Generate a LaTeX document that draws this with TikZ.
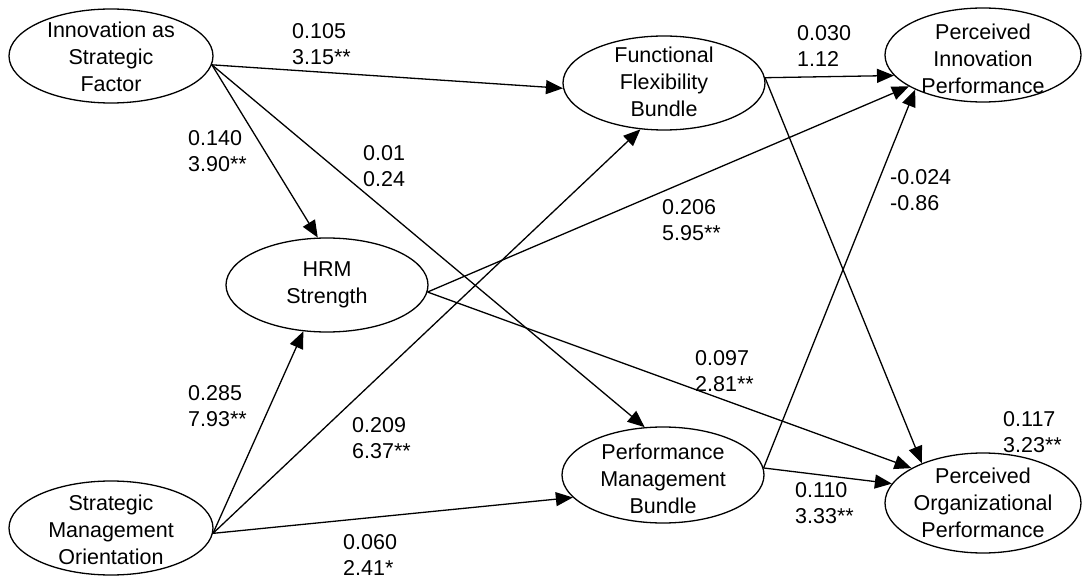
\documentclass[tikz,border=0pt]{standalone}
\usepackage{fontspec}
\setmainfont{Liberation Sans}
\usetikzlibrary{arrows.meta,shapes.geometric}
\begin{document}
\begin{tikzpicture}[x=1pt,y=-1pt,
  ell/.style={draw, ellipse, line width=1.3pt, inner sep=0pt},
  txt/.style={align=center, inner sep=0pt, font=\fontsize{21.5}{27}\selectfont},
  coef/.style={align=left, anchor=west, inner sep=0pt, font=\fontsize{21.5}{26}\selectfont},
  lnk/.style={line width=1.3pt, -{Triangle[length=17pt,width=14pt]}}
]
\fill[white] (0,0) rectangle (1082,580);
\useasboundingbox (0,0) rectangle (1082,580);

% constructs
\node[ell, minimum width=204pt, minimum height=94pt] (isf) at (111,56) {};
\node[txt] (isfT) at (111,57) {Innovation as\\Strategic\\Factor};
\node[ell, minimum width=202pt, minimum height=94pt] (hrm) at (327,285) {};
\node[txt] (hrmT) at (327,285) {HRM\\Strength};
\node[ell, minimum width=204pt, minimum height=94pt] (smo) at (111,528) {};
\node[txt] (smoT) at (111,530) {Strategic\\Management\\Orientation};
\node[ell, minimum width=202pt, minimum height=94pt] (ffb) at (664,83) {};
\node[txt] (ffbT) at (664,82) {Functional\\Flexibility\\Bundle};
\node[ell, minimum width=196pt, minimum height=94pt] (pip) at (983,55) {};
\node[txt] (pipT) at (983,59) {Perceived\\Innovation\\Performance};
\node[ell, minimum width=202pt, minimum height=96pt] (pmb) at (663,475) {};
\node[txt] (pmbT) at (663,479) {Performance\\Management\\Bundle};
\node[ell, minimum width=196pt, minimum height=100pt] (pop) at (983,503) {};
\node[txt] (popT) at (983,503) {Perceived\\Organizational\\Performance};

% paths
\draw[lnk] (isf.-5) -- (ffb.183);
\draw[lnk] (isf.-5) -- (hrm.101);
\draw[lnk] (isf.-5) -- (pmb.111);
\draw[lnk] (smo.-3) -- (hrm.-117);
\draw[lnk] (smo.-3) -- (ffb.-117);
\draw[lnk] (smo.-3) -- (pmb.-166);
\draw[lnk] (hrm.-4) -- (pip.-157);
\draw[lnk] (hrm.-4) -- (pop.154);
\draw[lnk] (ffb.3) -- (pip.-167);
\draw[lnk] (ffb.3) -- (pop.147);
\draw[lnk] (pmb.4) -- (pip.-153);
\draw[lnk] (pmb.4) -- (pop.168);

% coefficients and t-values
\node[coef] (c1) at (292,44) {0.105\\3.15**};
\node[coef] (c2) at (797,46) {0.030\\1.12};
\node[coef] (c3) at (188,151) {0.140\\3.90**};
\node[coef] (c4) at (363,166) {0.01\\0.24};
\node[coef] (c5) at (890,190) {-0.024\\-0.86};
\node[coef] (c6) at (662,220) {0.206\\5.95**};
\node[coef] (c7) at (695,371) {0.097\\2.81**};
\node[coef] (c8) at (188,406) {0.285\\7.93**};
\node[coef] (c9) at (1003,432) {0.117\\3.23**};
\node[coef] (c10) at (352,438) {0.209\\6.37**};
\node[coef] (c11) at (795,503) {0.110\\3.33**};
\node[coef] (c12) at (343,555) {0.060\\2.41*};
\end{tikzpicture}
\end{document}
